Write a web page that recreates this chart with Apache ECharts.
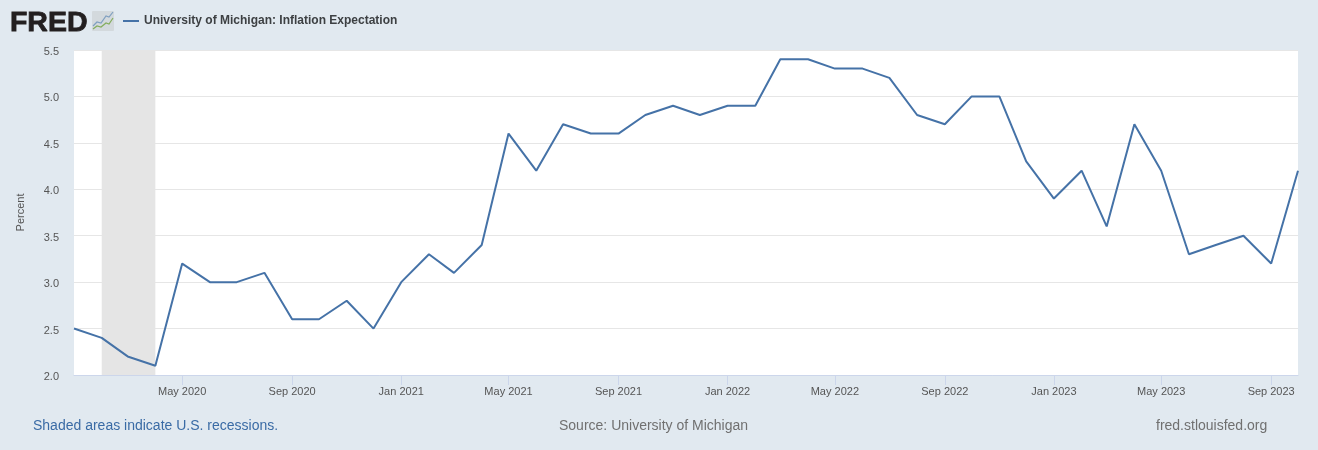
<!DOCTYPE html>
<html>
<head>
<meta charset="utf-8">
<style>
  html, body { margin: 0; padding: 0; background: #e1e9f0; }
  #chart { width: 1318px; height: 450px; }
</style>
<script src="https://cdn.jsdelivr.net/npm/echarts@6/dist/echarts.min.js"></script>
</head>
<body>
<div id="chart"></div>
<script>
const months = [
  '2020-01-01', '2020-02-01', '2020-03-01', '2020-04-01', '2020-05-01', '2020-06-01',
  '2020-07-01', '2020-08-01', '2020-09-01', '2020-10-01', '2020-11-01', '2020-12-01',
  '2021-01-01', '2021-02-01', '2021-03-01', '2021-04-01', '2021-05-01', '2021-06-01',
  '2021-07-01', '2021-08-01', '2021-09-01', '2021-10-01', '2021-11-01', '2021-12-01',
  '2022-01-01', '2022-02-01', '2022-03-01', '2022-04-01', '2022-05-01', '2022-06-01',
  '2022-07-01', '2022-08-01', '2022-09-01', '2022-10-01', '2022-11-01', '2022-12-01',
  '2023-01-01', '2023-02-01', '2023-03-01', '2023-04-01', '2023-05-01', '2023-06-01',
  '2023-07-01', '2023-08-01', '2023-09-01', '2023-10-01',
];
const inflation = [
  2.5, 2.4, 2.2, 2.1, 3.2, 3.0, 3.0, 3.1, 2.6, 2.6, 2.8, 2.5,
  3.0, 3.3, 3.1, 3.4, 4.6, 4.2, 4.7, 4.6, 4.6, 4.8, 4.9, 4.8,
  4.9, 4.9, 5.4, 5.4, 5.3, 5.3, 5.2, 4.8, 4.7, 5.0, 5.0, 4.3,
  3.9, 4.2, 3.6, 4.7, 4.2, 3.3, 3.4, 3.5, 3.2, 4.2,
];
const tickDates = [
  '2020-05-01', '2020-09-01', '2021-01-01', '2021-05-01', '2021-09-01', '2022-01-01',
  '2022-05-01', '2022-09-01', '2023-01-01', '2023-05-01', '2023-09-01',
];
const tickLabels = [
  'May 2020', 'Sep 2020', 'Jan 2021', 'May 2021', 'Sep 2021', 'Jan 2022',
  'May 2022', 'Sep 2022', 'Jan 2023', 'May 2023', 'Sep 2023',
];
const recession = ['2020-02-01', '2020-04-01'];
const seriesName = 'University of Michigan: Inflation Expectation';

const FONT = '"Liberation Sans", Arial, sans-serif';
const toTime = d => Date.parse(d + 'T00:00:00Z');
const tickTimes = tickDates.map(toTime);

const chart = echarts.init(document.getElementById('chart'));

function footer(left, text, color) {
  return {
    type: 'text', left, top: 419,
    style: { text, fill: color, font: '14px ' + FONT },
  };
}

chart.setOption({
  animation: false,
  backgroundColor: '#e1e9f0',
  grid: { left: 74, right: 20, top: 50, bottom: 75, backgroundColor: '#fff', show: true, borderWidth: 0 },
  legend: {
    left: 118, top: 10,
    icon: 'rect',
    itemWidth: 16, itemHeight: 2,
    itemGap: 0,
    textStyle: { color: '#3d4043', fontSize: 12, fontWeight: 'bold', fontFamily: FONT },
    data: [seriesName],
  },
  xAxis: {
    // value axis on timestamps: the time axis can't take customValues labels
    type: 'value',
    min: toTime(months[0]),
    max: toTime(months[months.length - 1]),
    axisLine: { lineStyle: { color: '#ccd6eb', width: 1 } },
    axisTick: { length: 10, customValues: tickTimes, lineStyle: { color: '#ccd6eb' } },
    axisLabel: {
      customValues: tickTimes,
      color: '#555', fontSize: 11, fontFamily: FONT, margin: 11,
      hideOverlap: false,
      formatter: v => tickLabels[tickTimes.indexOf(v)],
    },
    splitLine: { show: false },
  },
  yAxis: {
    type: 'value',
    min: 2,
    max: 5.5,
    interval: 0.5,
    name: 'Percent',
    nameLocation: 'middle',
    nameGap: 48,
    nameTextStyle: { color: '#555', fontSize: 11, fontFamily: FONT },
    axisLine: { show: false },
    axisTick: { show: false },
    axisLabel: {
      color: '#555', fontSize: 11, fontFamily: FONT, margin: 15,
      lineHeight: 11,
      formatter: v => '{t|' + v.toFixed(1) + '}',
      rich: { t: { padding: [4, 0, 0, 0], color: '#555', fontSize: 11, fontFamily: FONT } },
    },
    splitLine: { lineStyle: { color: '#e6e6e6', width: 1 } },
  },
  series: [{
    name: seriesName,
    type: 'line',
    data: months.map((m, i) => [toTime(m), inflation[i]]),
    showSymbol: false,
    lineStyle: { color: '#4572a7', width: 2 },
    itemStyle: { color: '#4572a7' },
    markArea: {
      silent: true,
      itemStyle: { color: '#e5e5e5' },
      data: [[{ xAxis: toTime(recession[0]) }, { xAxis: toTime(recession[1]) }]],
    },
  }],
  graphic: [
    // FRED logo
    {
      type: 'text', left: 9.5, top: 8,
      style: { text: 'FRED', fill: '#231f20', stroke: '#231f20', lineWidth: 0.8, font: 'bold 28.5px ' + FONT },
    },
    { type: 'rect', shape: { x: 92, y: 11, width: 22, height: 20, r: 1 }, style: { fill: '#d3d9dd' } },
    {
      type: 'polyline',
      shape: { points: [[93, 26], [97, 22], [101, 23], [106, 16], [109, 17], [113, 12]] },
      style: { fill: 'none', stroke: '#7f9fc0', lineWidth: 1.2 },
    },
    {
      type: 'polyline',
      shape: { points: [[93, 29], [97, 26], [101, 27], [106, 23], [109, 24], [113, 18]] },
      style: { fill: 'none', stroke: '#84ad5e', lineWidth: 1.2 },
    },
    footer(33, 'Shaded areas indicate U.S. recessions.', '#3a6ba5'),
    footer(559, 'Source: University of Michigan', '#707070'),
    footer(1156, 'fred.stlouisfed.org', '#707070'),
  ],
});
</script>
</body>
</html>
